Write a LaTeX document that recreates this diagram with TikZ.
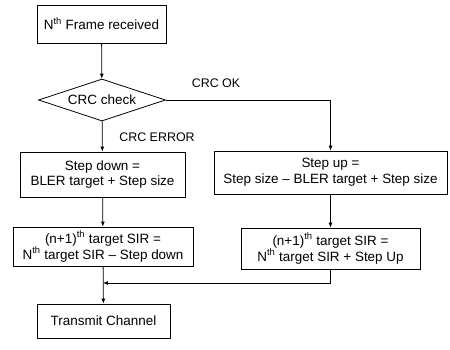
\documentclass[tikz,border=0pt]{standalone}
\usepackage{fontspec}
\setmainfont{Liberation Sans}
\usetikzlibrary{shapes.geometric,arrows.meta}

\begin{document}
\begin{tikzpicture}[x=1bp,y=-1bp,
    box/.style={draw, line width=0.8pt, inner sep=0pt, align=center,
        font=\fontsize{13.5}{16}\selectfont},
    decision/.style={draw, diamond, line width=0.8pt, inner sep=0pt, aspect=3,
        font=\fontsize{13.5}{16}\selectfont},
    link/.style={line width=0.8pt, -{Latex[length=5pt,width=4pt]}},
    tag/.style={font=\fontsize{12.5}{15}\selectfont}]
\useasboundingbox (0,0) rectangle (450,349);

% Boxes
\node[box, minimum width=129bp, minimum height=38bp] (frame) at (101.5,24) {N\textsuperscript{th} Frame received};
\node[decision, minimum width=127bp, minimum height=42bp] (check) at (102,100) {CRC check};
\node[box, minimum width=165bp, minimum height=45bp] (stepdown) at (102.5,174.5) {Step down =\\BLER target + Step size};
\node[box, minimum width=233bp, minimum height=43bp] (stepup) at (330.5,172.5) {Step up =\\Step size -- BLER target + Step size};
\node[box, minimum width=180bp, minimum height=39bp] (sirdown) at (103,246.5) {(n+1)\textsuperscript{th} target SIR =\\N\textsuperscript{th} target SIR -- Step down};
\node[box, minimum width=179bp, minimum height=41bp] (sirup) at (330.5,248.5) {(n+1)\textsuperscript{th} target SIR =\\N\textsuperscript{th} target SIR + Step Up};
\node[box, minimum width=133bp, minimum height=34bp] (transmit) at (103.5,321) {Transmit Channel};
\coordinate (join) at (103,283);

% Connectors
\draw[link] (frame) -- (check);
\draw[link] (check) -- (stepdown);
\draw[link] (check.east) -| (stepup.north);
\draw[link] (stepdown) -- (sirdown);
\draw[link] (stepup) -- (sirup);
\draw[link] (sirup.south) |- (join);
\draw[link] (sirdown) -- (transmit);

% Branch labels
\node[tag] (oklabel) at (216,83) {CRC OK};
\node[tag] (errlabel) at (157,137) {CRC ERROR};
\end{tikzpicture}
\end{document}
